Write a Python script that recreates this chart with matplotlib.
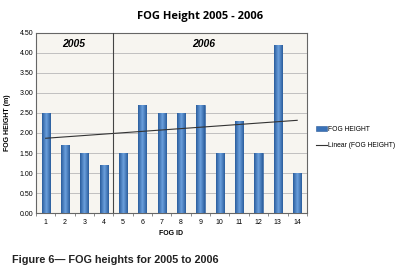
import matplotlib.pyplot as plt
import numpy as np
from matplotlib.colors import LinearSegmentedColormap

fog_id = np.arange(1, 15)
fog_height = [2.5, 1.7, 1.5, 1.2, 1.5, 2.7, 2.5, 2.5, 2.7, 1.5, 2.3, 1.5, 4.2, 1.0]
y_ticks = [0, 0.5, 1.0, 1.5, 2.0, 2.5, 3.0, 3.5, 4.0, 4.5]
years = ['2005', '2006']

plt.rcParams['font.family'] = ['Liberation Sans', 'DejaVu Sans']

fig = plt.figure(figsize=(3.98, 2.74), dpi=100)
ax = fig.add_axes([0.0905, 0.2226, 0.6805, 0.657])
ax.set_facecolor('#f7f5f0')

bars = ax.bar(fog_id, fog_height, width=0.42, color='#3a72b8', edgecolor='#2a5a98',
              linewidth=0.4, zorder=3, label='FOG HEIGHT')

# cylinder-ish shading inside each bar
grad = np.concatenate([np.linspace(0, 1, 50), np.linspace(1, 0, 50)])[None, :]
cmap = LinearSegmentedColormap.from_list('barblue', ['#2a5c9c', '#6a9fdc'])
for r in bars:
    x0, w, h = r.get_x(), r.get_width(), r.get_height()
    im = ax.imshow(grad, cmap=cmap, aspect='auto', extent=(x0, x0 + w, 0, h),
                   zorder=3.5)
    im.set_clip_path(r)

# trend line
k, b = np.polyfit(fog_id, fog_height, 1)
xl = np.array([1, 14])
ax.plot(xl, k * xl + b, color='#333333', linewidth=0.8, zorder=4,
        label='Linear (FOG HEIGHT)')

# year divider
ax.axvline(4.5, color='#444444', linewidth=0.8, zorder=4)
ax.text(2.46, 4.22, years[0], ha='center', va='center', fontsize=7.5,
        fontweight='bold', style='italic')
ax.text(9.18, 4.22, years[1], ha='center', va='center', fontsize=7.5,
        fontweight='bold', style='italic')

ax.set_xlim(0.5, 14.5)
ax.set_ylim(0, 4.5)
ax.set_yticks(y_ticks)
ax.set_yticklabels(['%.2f' % v for v in y_ticks])
ax.set_xticks(fog_id)
ax.set_xticks(np.arange(0.5, 15, 1), minor=True)
ax.tick_params(axis='x', which='major', length=0, labelsize=5, pad=4)
ax.tick_params(axis='x', which='minor', length=2.5, color='#777777')
ax.tick_params(axis='y', length=0, labelsize=5, pad=2)
ax.grid(axis='y', color='#b8b8b8', linewidth=0.6, zorder=0)
for s in ax.spines.values():
    s.set_color('#666666')
    s.set_linewidth(0.8)

ax.set_xlabel('FOG ID', fontsize=5, fontweight='bold', labelpad=3)
ax.set_ylabel('FOG HEIGHT (m)', fontsize=5, fontweight='bold', labelpad=6)

fig.text(0.503, 0.938, 'FOG Height 2005 - 2006', ha='center', va='center',
         fontsize=8, fontweight='bold', family=['Open Sans', 'DejaVu Sans'])
fig.text(0.03, 0.051, 'Figure 6\u2014 FOG heights for 2005 to 2006', ha='left',
         va='center', fontsize=7.85, fontweight='bold', color='#222222')

handles, labels = ax.get_legend_handles_labels()
order = [labels.index('FOG HEIGHT'), labels.index('Linear (FOG HEIGHT)')]
ax.legend([handles[i] for i in order], [labels[i] for i in order],
          loc='center left', bbox_to_anchor=(1.035, 0.42), frameon=False,
          fontsize=4.9, handlelength=1.5, handleheight=0.7, handletextpad=0.2,
          borderaxespad=0, borderpad=0, labelspacing=1.4)

fig.savefig('out.png', dpi=100)
